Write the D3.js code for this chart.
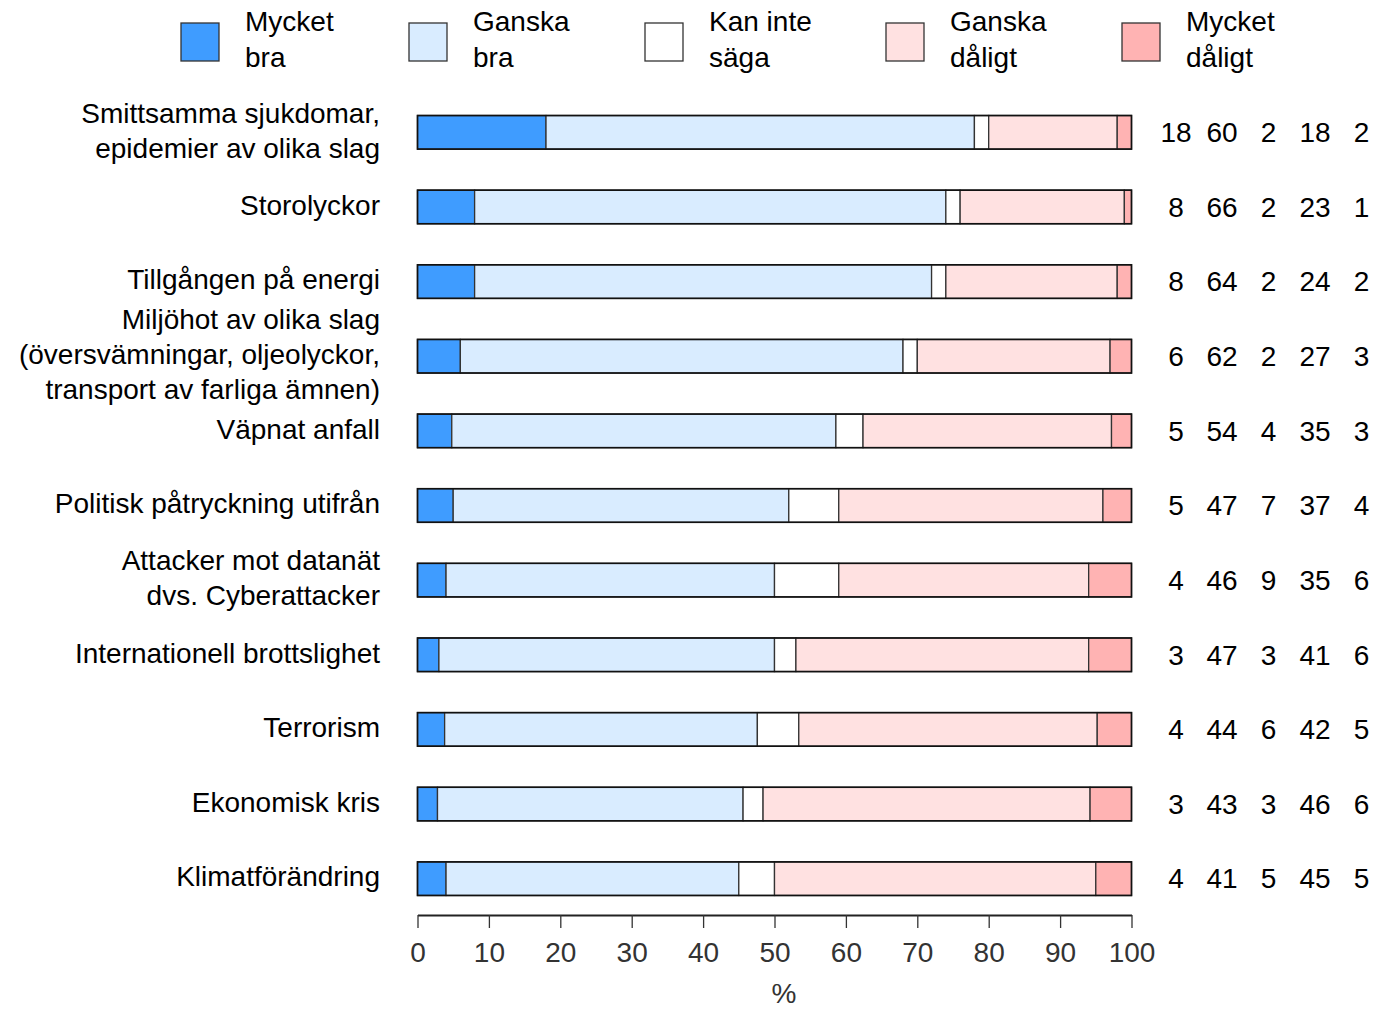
<!DOCTYPE html>
<html>
<head>
<meta charset="utf-8">
<script src="https://cdn.jsdelivr.net/npm/d3@7"></script>
<style>
  html, body { margin: 0; padding: 0; background: #fff; }
  svg { display: block; font-family: "Liberation Sans", Arial, sans-serif; }
</style>
</head>
<body>
<svg id="chart" width="1390" height="1010"></svg>
<script>
// ---- data ----
const categories = [
  "Smittsamma sjukdomar,\nepidemier av olika slag",
  "Storolyckor",
  "Tillgången på energi",
  "Miljöhot av olika slag\n(översvämningar, oljeolyckor,\ntransport av farliga ämnen)",
  "Väpnat anfall",
  "Politisk påtryckning utifrån",
  "Attacker mot datanät\ndvs. Cyberattacker",
  "Internationell brottslighet",
  "Terrorism",
  "Ekonomisk kris",
  "Klimatförändring"
];
const seriesNames = ["Mycket\nbra", "Ganska\nbra", "Kan inte\nsäga", "Ganska\ndåligt", "Mycket\ndåligt"];
const mycketBra    = [18,  8,  8,  6,  4.8,  5,  4,  3,  3.8,  2.8,  4];
const ganskaBra    = [60, 66, 64, 62, 53.8, 47, 46, 47, 43.8, 42.8, 41];
const kanInteSaga  = [ 2,  2,  2,  2,  3.8,  7,  9,  3,  5.8,  2.8,  5];
const ganskaDaligt = [18, 23, 24, 27, 34.8, 37, 35, 41, 41.8, 45.8, 45];
const mycketDaligt = [ 2,  1,  2,  3,  2.8,  4,  6,  6,  4.8,  5.8,  5];
const xTicks = [0, 10, 20, 30, 40, 50, 60, 70, 80, 90, 100];
const xLabel = "%";

// ---- styles / layout ----
const colors = ["#3f9cff", "#d9ecff", "#ffffff", "#ffe1e1", "#ffb3b3"];
const keys = ["k0", "k1", "k2", "k3", "k4"];
const seriesArrays = [mycketBra, ganskaBra, kanInteSaga, ganskaDaligt, mycketDaligt];
const rows = categories.map((c, i) => {
  const r = { cat: c };
  keys.forEach((k, j) => r[k] = seriesArrays[j][i]);
  return r;
});
const FS = 28;

const svg = d3.select("#chart");
const x = d3.scaleLinear().domain([0, 100]).range([417.5, 1131.5]);
const y = d3.scaleBand().domain(categories).range([95, 916]).paddingInner(0.55).paddingOuter(0.275);

const stacked = d3.stack().keys(keys)(rows);

// bars
const g = svg.append("g");
stacked.forEach((s, j) => {
  g.selectAll(null).data(s).enter().append("rect")
    .attr("x", d => x(d[0]))
    .attr("y", d => y(d.data.cat))
    .attr("width", d => x(d[1]) - x(d[0]))
    .attr("height", y.bandwidth())
    .attr("fill", colors[j])
    .attr("stroke", "#333")
    .attr("stroke-width", 1.3);
});
g.selectAll(null).data(rows).enter().append("rect")
  .attr("x", x(0)).attr("y", d => y(d.cat))
  .attr("width", x(100) - x(0)).attr("height", y.bandwidth())
  .attr("fill", "none").attr("stroke", "#111").attr("stroke-width", 1.6);

// category labels
const labelRight = 380;
const lineH = 35;
rows.forEach(d => {
  const lines = d.cat.split("\n");
  const cy = y(d.cat) + y.bandwidth() / 2 - 2;
  const t = svg.append("text")
    .attr("text-anchor", "end")
    .attr("font-size", FS)
    .attr("fill", "#000");
  lines.forEach((ln, k) => {
    t.append("tspan")
      .attr("x", labelRight)
      .attr("y", cy + (k - (lines.length - 1) / 2) * lineH)
      .attr("dy", "0.35em")
      .text(ln);
  });
});

// value columns on right
const valueCols = [1176, 1222, 1268.5, 1315, 1361.5];
rows.forEach(d => {
  keys.forEach((k, j) => {
    svg.append("text")
      .attr("x", valueCols[j])
      .attr("y", y(d.cat) + y.bandwidth() / 2)
      .attr("dy", "0.35em")
      .attr("text-anchor", "middle")
      .attr("font-size", FS)
      .attr("fill", "#000")
      .text(Math.round(d[k]));
  });
});

// x axis
const axisY = 915;
const ax = svg.append("g")
  .attr("transform", `translate(0,${axisY})`)
  .call(d3.axisBottom(x).tickValues(xTicks).tickSize(13).tickSizeOuter(0).tickPadding(14));
ax.select(".domain").attr("stroke", "#222").attr("stroke-width", 2.2);
ax.selectAll(".tick line").attr("stroke", "#333").attr("stroke-width", 1.3);
ax.selectAll(".tick text")
  .attr("font-size", FS)
  .attr("font-family", "'Liberation Sans', Arial, sans-serif")
  .attr("fill", "#333");
svg.append("text")
  .attr("x", 784)
  .attr("y", 1003)
  .attr("text-anchor", "middle")
  .attr("font-size", FS)
  .attr("fill", "#333")
  .text(xLabel);

// legend
const legendX = [181, 409, 645, 886, 1122];
seriesNames.forEach((name, j) => {
  const lg = svg.append("g").attr("transform", `translate(${legendX[j]},0)`);
  lg.append("rect")
    .attr("x", 0).attr("y", 23).attr("width", 38).attr("height", 38)
    .attr("fill", colors[j]).attr("stroke", "#333").attr("stroke-width", 1.3);
  const t = lg.append("text").attr("font-size", FS).attr("fill", "#000");
  name.split("\n").forEach((ln, k) => {
    t.append("tspan").attr("x", 64).attr("y", 21 + k * 36).attr("dy", "0.35em").text(ln);
  });
});
</script>
</body>
</html>
